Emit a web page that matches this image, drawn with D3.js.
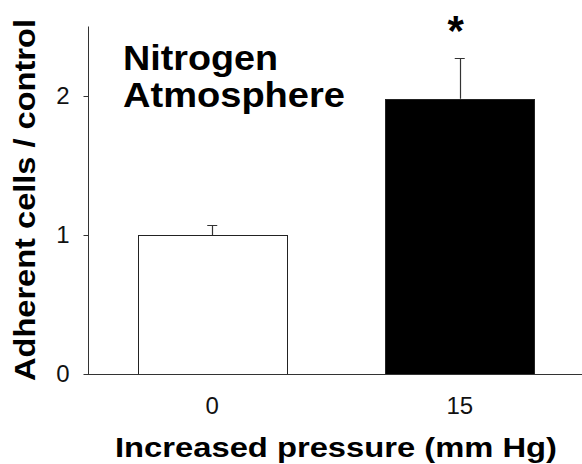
<!DOCTYPE html>
<html>
<head>
<meta charset="utf-8">
<script src="https://cdn.jsdelivr.net/npm/d3@7"></script>
<style>
html,body{margin:0;padding:0;background:#fff;}
svg{display:block;}
</style>
</head>
<body>
<svg id="chart" width="582" height="464"></svg>
<script>
const categories = ["0", "15"];
const means = [1.0, 1.98];
const errors = [0.07, 0.29];
const fills = ["#ffffff", "#000000"];
const yTicks = [0, 1, 2];
const significance = ["", "*"];

const W = 582, H = 464;
const svg = d3.select("#chart");
const font = "'Liberation Sans', Arial, Helvetica, sans-serif";

const x = d3.scaleBand().domain(categories).range([89, 583]).paddingInner(0.398).paddingOuter(0.197);
const y = d3.scaleLinear().domain([0, 2.5]).range([374, 26.5]);

// bars
svg.selectAll("rect.bar").data(categories).join("rect")
  .attr("class", "bar")
  .attr("x", d => Math.round(x(d)) + 0.5)
  .attr("y", (d, i) => Math.round(y(means[i])) + 0.5)
  .attr("width", Math.round(x.bandwidth()))
  .attr("height", (d, i) => Math.round(y(0)) - Math.round(y(means[i])))
  .attr("fill", (d, i) => fills[i])
  .attr("stroke", "#222")
  .attr("stroke-width", 1);

// error bars
const eb = svg.selectAll("g.err").data(categories).join("g").attr("class", "err");
eb.append("line")
  .attr("x1", d => Math.round(x(d) + x.bandwidth() / 2) + 0.5)
  .attr("x2", d => Math.round(x(d) + x.bandwidth() / 2) + 0.5)
  .attr("y1", (d, i) => y(means[i]))
  .attr("y2", (d, i) => y(means[i] + errors[i]))
  .attr("stroke", "#333").attr("stroke-width", 1.2);
eb.append("line")
  .attr("x1", d => x(d) + x.bandwidth() / 2 - 5)
  .attr("x2", d => x(d) + x.bandwidth() / 2 + 5)
  .attr("y1", (d, i) => Math.round(y(means[i] + errors[i])) + 0.5)
  .attr("y2", (d, i) => Math.round(y(means[i] + errors[i])) + 0.5)
  .attr("stroke", "#333").attr("stroke-width", 1);

// significance
svg.selectAll("text.sig").data(categories).join("text")
  .attr("class", "sig")
  .attr("x", d => x(d) + x.bandwidth() / 2 - 4)
  .attr("y", 45)
  .attr("text-anchor", "middle")
  .attr("font-family", font).attr("font-weight", "bold").attr("font-size", 42)
  .text((d, i) => significance[i]);

// y axis
const yAxis = d3.axisLeft(y).tickValues(yTicks).tickSize(5).tickPadding(14).tickFormat(d3.format("d"));
const gy = svg.append("g").attr("transform", "translate(88.5,0)").call(yAxis);
gy.select(".domain").remove();
gy.append("line").attr("x1", 0).attr("x2", 0).attr("y1", y(2.5)).attr("y2", y(0)).attr("stroke", "#333");
gy.selectAll(".tick line").attr("stroke", "#333");
gy.selectAll(".tick text").attr("font-family", font).attr("font-size", 24).attr("fill", "#111");

// x axis
const xAxis = d3.axisBottom(x).tickSize(0).tickPadding(22);
const gx = svg.append("g").attr("transform", `translate(0,${Math.round(y(0)) + 0.5})`).call(xAxis);
gx.select(".domain").remove();
gx.append("line").attr("x1", 88).attr("x2", W).attr("y1", 0).attr("y2", 0).attr("stroke", "#333");
gx.selectAll(".tick text").attr("font-family", font).attr("font-size", 24).attr("fill", "#111");

// axis titles
svg.append("text")
  .attr("transform", "translate(35,200) rotate(-90)")
  .attr("text-anchor", "middle")
  .attr("font-family", font).attr("font-weight", "bold").attr("font-size", 29)
  .attr("textLength", 362).attr("lengthAdjust", "spacingAndGlyphs")
  .text("Adherent cells / control");

svg.append("text")
  .attr("x", 336).attr("y", 457)
  .attr("text-anchor", "middle")
  .attr("font-family", font).attr("font-weight", "bold").attr("font-size", 27)
  .attr("textLength", 442).attr("lengthAdjust", "spacingAndGlyphs")
  .text("Increased pressure (mm Hg)");

// annotation
const ann = svg.append("text")
  .attr("font-family", font).attr("font-weight", "bold").attr("font-size", 35);
ann.append("tspan").attr("x", 123).attr("y", 70).attr("textLength", 155).attr("lengthAdjust", "spacingAndGlyphs").text("Nitrogen");
ann.append("tspan").attr("x", 123).attr("y", 107).attr("textLength", 222).attr("lengthAdjust", "spacingAndGlyphs").text("Atmosphere");
</script>
</body>
</html>
